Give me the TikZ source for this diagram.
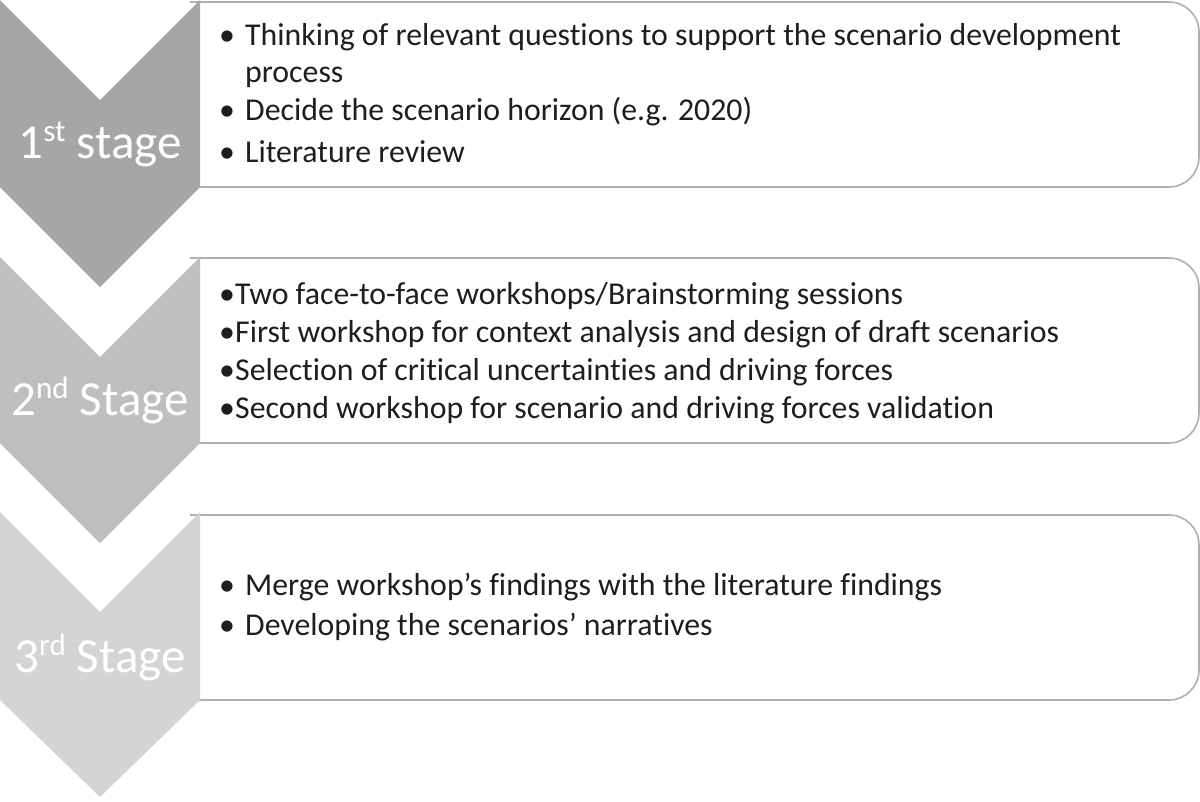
\documentclass[tikz,border=0pt]{standalone}
\usepackage{fontspec}
\setmainfont{Carlito}[Ligatures=NoCommon]
\newcommand{\supr}[1]{\raisebox{0.34em}{\fontsize{31}{31}\selectfont #1}}
\begin{document}
\begin{tikzpicture}[x=1pt,y=-1pt,
  stagebox/.style={draw=boxgray,line width=1.6pt,fill=white,rounded corners=30pt},
  stagelabel/.style={text=white,font=\fontsize{49}{55}\selectfont,anchor=base,inner sep=0pt},
  itemtext/.style={text=textdark,font=\fontsize{31.8}{36}\selectfont,anchor=base west,inner sep=0pt},
  bul/.style={text=textdark,font=\fontsize{31.8}{36}\selectfont,anchor=base,inner sep=0pt}]
\definecolor{boxgray}{HTML}{B0B0B0}
\definecolor{textdark}{HTML}{1E1E1E}
\definecolor{gA}{HTML}{A6A6A6}
\definecolor{gB}{HTML}{BFBFBF}
\definecolor{gC}{HTML}{D4D4D4}
\useasboundingbox[fill=white] (0,0) rectangle (1200,801);
% boxes
\draw[stagebox] (190,2) -- (1199,2) -- (1199,187) -- (190,187);
\draw[stagebox] (190,258) -- (1199,258) -- (1199,443) -- (190,443);
\draw[stagebox] (190,515) -- (1199,515) -- (1199,700) -- (190,700);
% chevrons
\fill[gA] (0,0) -- (100,100) -- (200,0) -- (200,187) -- (100,287) -- (0,187) -- cycle;
\fill[gB] (0,257) -- (100,357) -- (200,257) -- (200,443) -- (100,543) -- (0,443) -- cycle;
\fill[gC] (0,512) -- (100,612) -- (200,512) -- (200,700) -- (100,797) -- (0,700) -- cycle;
% stage labels
\node[stagelabel] (s1) at (100,158) {1\supr{st} stage};
\node[stagelabel] (s2) at (100,415) {2\supr{nd} Stage};
\node[stagelabel] (s3) at (100,672) {3\supr{rd} Stage};
% box 1
\node[bul] (b1a) at (227,45) {•};
\node[itemtext] (t1a) at (245,45) {Thinking of relevant questions to support the scenario development};
\node[itemtext] (t1b) at (245,82) {process};
\node[bul] (b1c) at (227,120) {•};
\node[itemtext] (t1c) at (245,120) {Decide the scenario horizon (e.g. 2020)};
\node[bul] (b1d) at (227,162) {•};
\node[itemtext] (t1d) at (245,162) {Literature review};
% box 2
\node[bul] (b2a) at (227,304) {•};
\node[itemtext] (t2a) at (235,304) {Two face-to-face workshops/Brainstorming sessions};
\node[bul] (b2b) at (227,342) {•};
\node[itemtext] (t2b) at (235,342) {First workshop for context analysis and design of draft scenarios};
\node[bul] (b2c) at (227,380) {•};
\node[itemtext] (t2c) at (235,380) {Selection of critical uncertainties and driving forces};
\node[bul] (b2d) at (227,418) {•};
\node[itemtext] (t2d) at (235,418) {Second workshop for scenario and driving forces validation};
% box 3
\node[bul] (b3a) at (227,595) {•};
\node[itemtext] (t3a) at (245,595) {Merge workshop’s findings with the literature findings};
\node[bul] (b3b) at (227,635) {•};
\node[itemtext] (t3b) at (245,635) {Developing the scenarios’ narratives};
\end{tikzpicture}
\end{document}
